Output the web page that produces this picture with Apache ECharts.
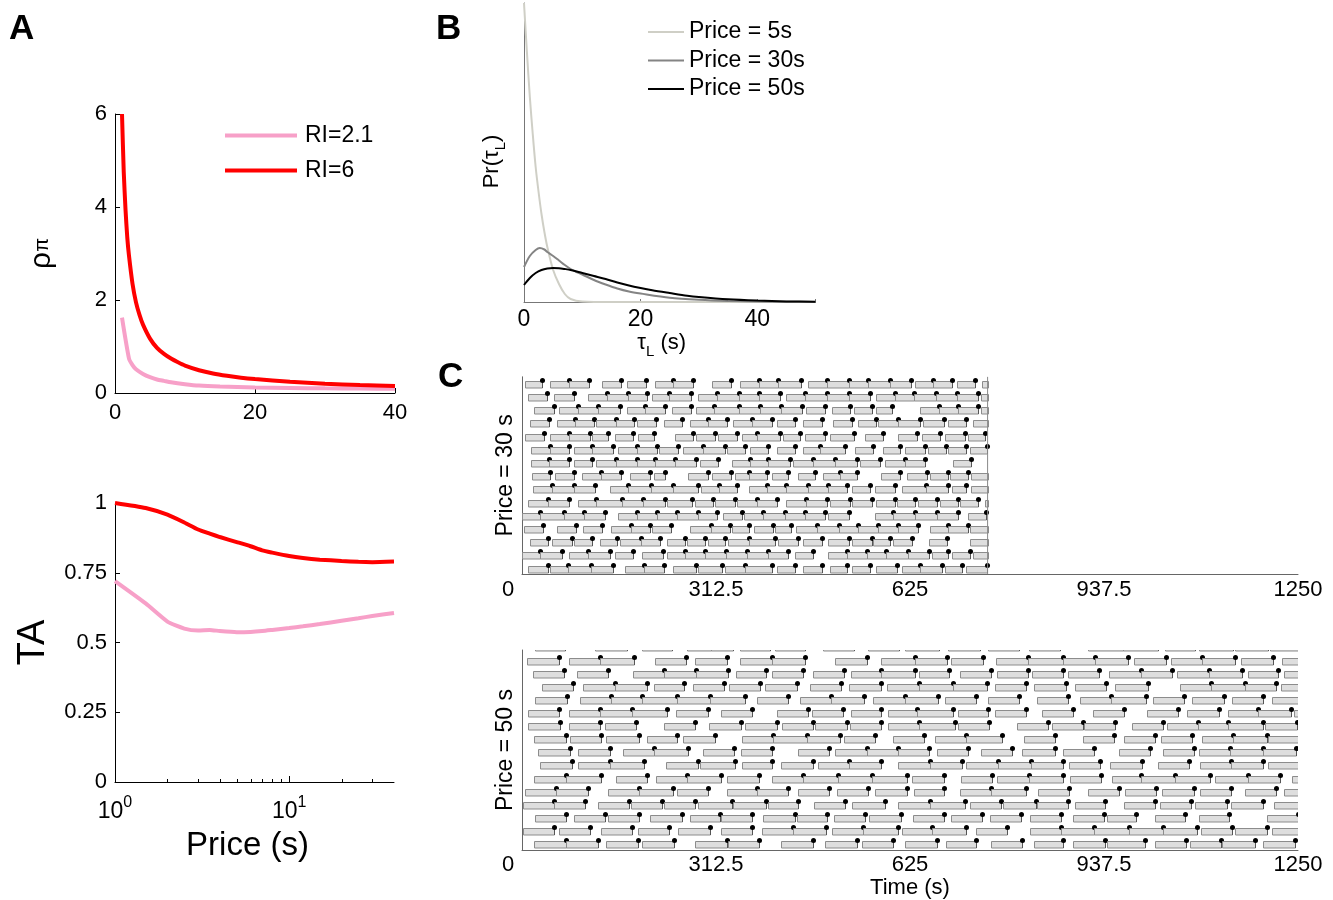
<!DOCTYPE html>
<html><head><meta charset="utf-8">
<script src="https://cdn.jsdelivr.net/npm/echarts@6/dist/echarts.min.js"></script>
<style>html,body{margin:0;padding:0;background:#fff}#c{width:1333px;height:900px}</style>
</head><body><div id="c"></div><script>
// ---------- Panel A (top): rho^pi vs price ----------
const aPriceHi = [1,1.25,1.5,1.75,2,2.5,3,3.5,4,5,6,7,8,9,10,12,14,16,18,20,25,30,35,40];
const aRhoHi   = [6.0,4.75,3.95,3.35,2.95,2.35,1.95,1.68,1.47,1.17,0.97,0.84,0.74,0.66,0.59,0.49,0.42,0.37,0.33,0.30,0.24,0.20,0.17,0.15];
const aPriceLo = [1,2,2.5,3,4,5,6,7,8,10,12,15,20,25,30,35,40];
const aRhoLo   = [1.62,0.74,0.60,0.51,0.41,0.34,0.29,0.26,0.23,0.19,0.16,0.14,0.12,0.11,0.10,0.095,0.09];
// ---------- Panel A (bottom): TA vs price (log) ----------
const taPrice = [1,1.5,2,2.5,3,3.5,4,5,6,7,8,10,12,15,20,25,30,40];
const taHi    = [1.0,0.982,0.958,0.93,0.905,0.89,0.878,0.86,0.845,0.83,0.822,0.81,0.803,0.797,0.792,0.789,0.788,0.79];
const taLo    = [0.72,0.64,0.575,0.55,0.543,0.545,0.541,0.537,0.538,0.541,0.545,0.552,0.558,0.566,0.578,0.587,0.595,0.606];
const taMinorTicks = [2,3,4,5,6,7,8,9,20,30];
// ---------- Panel B: Pr(tau_L) ----------
const bTau5  = [0,0.5,1,1.5,2,2.5,3,3.5,4,5,6,7,8,10,15,20,30,40,50];
const bPr5   = [299,250,205,168,135,110,88,70,55,32,18,8,3,0.5,0,0,0,0,0];
const bTau30 = [0,1,2,2.7,3.5,4,5,6,7,8,9,10,12,14,16,18,20,25,30,35,40,45,50];
const bPr30  = [35,46,52,54,52.5,50,46,41.5,37,33,30,27.5,22,17.5,13.5,10.5,8.5,4.3,2.2,1,0.4,0.2,0.1];
const bTau50 = [0,1,2,3,4,5,6,7,8,10,12,14,16,18,20,22,25,28,30,35,40,45,50];
const bPr50  = [17,24,29,32,33.5,34,33.8,33,32,29,26,23,19.5,16.5,14,11.8,9,6.3,5,2.7,1.4,0.6,0.3];
// ---------- Panel C: work bouts (chains: [start, reward1, reward2, ...]) ----------
const cTicks = [0,312.5,625,937.5,1250];
const price30EndTime = 750;
const price30Rows = [
 [[5,33],[45,76,108],[129,160],[169,200],[214,243,276],[306,336],[351,382,413,449],[461,492,527,558,593,626],[633,662,692],[700,729],[741,770]],
 [[10,41],[52,83],[107,137,170,202],[209,237,273],[284,314,350,381,416],[426,456,491,526,561],[571,601,632,667,700,734],[739,770]],
 [[20,51],[60,91,123,158],[169,198,231],[241,273],[281,310,349,383,418,451],[457,488],[499,528],[534,563],[571,596],[641,671,703,735],[740,770]],
 [[13,44],[56,85,116],[120,151,181],[185,216],[228,257],[271,299,330],[340,370,402],[410,440],[453,483],[501,531],[542,571],[574,606,641],[646,679],[687,716],[727,770]],
 [[5,35],[45,76,110],[113,138],[150,178],[187,213],[247,276],[281,311],[316,347],[354,378,416],[421,448],[456,488],[496,534],[553,582],[606,636],[644,673],[681,714],[719,746]],
 [[14,45,76],[83,113,146],[155,185,217],[220,252],[260,292,327],[330,360],[367,397],[410,440],[453,480,520],[536,566],[582,609],[617,649],[654,683],[687,716],[722,749]],
 [[14,44,75],[83,112],[120,151,185,214,247,280],[287,315],[338,367,397,432],[437,469,504,539],[545,577],[585,617,649],[695,724]],
 [[16,45],[53,84],[96,128,160],[174,206],[212,230],[268,299],[306,337],[343,365,394],[402,429],[445,472],[485,512,539],[579,609],[620,652],[657,687],[690,719],[724,770]],
 [[18,48,84,118],[142,171,208,244,283],[289,317,347],[365,394,426,461,493,523],[531,561],[569,601],[612,651,687],[692,716],[724,770]],
 [[10,42,75],[91,120,161,195,230],[233,274],[279,308],[311,343],[346,378,410],[426,458,491],[496,528],[531,563],[571,601],[604,633],[638,668],[673,703],[706,735],[746,770]],
 [[0,29,67,100,133],[155,185,217,249,283,314],[324,354],[357,389,424,456,488],[493,526],[569,598,633,668,703],[719,748]],
 [[4,34],[56,87],[99,129],[144,176,206],[210,240],[271,305,335],[338,365],[373,405],[408,434],[442,475,510,542,574,606,638],[657,687,719],[722,770]],
 [[13,42],[48,80],[83,112],[126,153],[158,192,222],[233,263],[265,295],[300,327],[332,365,408],[413,445],[453,483],[493,526],[531,563],[566,593],[598,628],[655,684],[722,770]],
 [[0,29,64],[75,107,142],[150,179],[193,227],[233,263,294,328,362,397,429],[440,469],[493,523,555,587,622,655],[660,687],[692,722],[727,770]],
 [[10,42],[45,74,111,146],[166,197,228],[244,281],[284,322],[327,359,402],[410,440],[453,483],[496,523],[531,561],[571,604],[612,641,676],[681,708],[716,749]]
];
const price50EndTime = 1250;
const price50Rows = [
 [[21,69],[118,169],[193,241],[265,305,340],[351,400],[407,456],[485,534],[558,607],[617,671],[687,738],[750,800],[816,867],[911,968,1025],[1036,1084],[1090,1146],[1149,1202],[1205,1280]],
 [[8,59],[75,126,180],[214,264],[279,330],[351,402,456],[504,555],[579,633,684],[691,742],[764,815,871,923,976],[986,1037],[1046,1096,1148],[1158,1209],[1224,1280]],
 [[18,68],[88,138],[178,229,280,332],[344,393],[403,453],[468,519],[530,579,633],[639,688],[706,756],[765,815],[821,871],[880,930],[946,997,1047],[1055,1106,1159],[1169,1218],[1227,1280]],
 [[32,82],[99,150,202],[212,261],[276,326],[334,383],[392,443],[464,514],[526,578],[588,639,695,749],[762,812],[825,876],[890,940],[955,1008],[1060,1110,1164,1214],[1223,1280]],
 [[21,72],[93,143,194,250,303,359],[378,429],[448,498,551],[566,617,670],[681,732],[750,801],[829,880],[899,949,1005],[1017,1067],[1079,1130],[1143,1193],[1208,1280]],
 [[9,59],[75,125,177,233],[248,299],[321,370],[410,460],[467,517],[530,579],[589,637,695],[702,751],[762,812],[837,887],[920,970],[1006,1056],[1071,1122],[1137,1186,1239],[1244,1280]],
 [[10,61],[75,126],[134,184],[229,278],[302,353],[360,410],[419,469],[472,523],[528,578],[590,640,697],[703,752],[797,847],[853,904],[906,955],[982,1032],[1039,1089,1137,1193],[1197,1248]],
 [[19,71],[77,127],[136,189],[201,250],[260,311],[354,405,459,512],[518,569],[598,648],[666,716,773],[809,859],[903,953],[969,1019],[1029,1080],[1095,1146,1200],[1202,1280]],
 [[26,78],[91,142],[162,213,268],[292,342],[353,403],[444,495],[504,555,606,656],[668,718],[739,790],[806,858],[871,922],[961,1012],[1032,1082],[1090,1141,1193,1246]],
 [[29,80],[91,141,196],[232,283],[287,343],[354,403],[418,468],[476,526,578],[606,657,709],[716,766,820,871],[881,931],[947,998],[1025,1075],[1092,1142,1194],[1202,1280]],
 [[19,71,127],[151,202],[216,266,321],[331,381],[403,453,509,563,620],[629,679],[707,757],[765,816,871],[883,933],[950,997,1052,1108],[1116,1169,1221],[1240,1280]],
 [[5,55,107],[139,189,244],[249,300],[330,378,428],[444,495],[508,558],[569,620],[632,679],[706,756,812],[831,881],[912,962],[971,1021],[1031,1082],[1092,1142],[1165,1214],[1227,1280]],
 [[1,51,102],[123,173],[175,225],[229,279],[284,338],[340,393],[396,445],[471,521],[532,584],[606,657,714],[722,772],[775,828],[829,880],[890,939],[969,1019],[1028,1078],[1084,1135],[1142,1193],[1212,1280]],
 [[21,71],[83,134],[139,189],[206,257],[270,319],[321,370],[389,440],[443,492],[502,553],[559,611],[630,680],[691,741],[754,804],[818,868],[887,938],[942,989],[1019,1068],[1090,1139],[1200,1250]],
 [[1,51],[59,109],[127,177],[187,237],[252,303],[321,370],[386,436,489],[499,550,606],[612,661,716],[732,782],[818,868,922,977,1032,1087],[1094,1144],[1149,1200],[1208,1280]],
 [[19,71,123],[136,187],[194,245],[279,330],[332,382],[418,468],[488,539],[547,598],[617,668],[683,732],[756,806],[824,871],[888,939],[942,1004],[1020,1069],[1076,1126],[1127,1180],[1194,1245]]
];

const FONT = 'Liberation Sans, Arial, Helvetica, sans-serif';
const zip = (a, b) => a.map((v, i) => [v, b[i]]);
function boutData(rows) {
  const out = [];
  rows.forEach((chains, r) => {
    const rowVal = rows.length - r;
    chains.forEach(ch => { for (let i = 1; i < ch.length; i++) out.push([ch[i - 1], ch[i], rowVal]); });
  });
  return out;
}
function boutRender(limit) {
  return function (params, api) {
    const s = api.value(0), e = api.value(1), row = api.value(2);
    const p0 = api.coord([s, row]);
    const p1 = api.coord([Math.min(e, limit), row]);
    const y = Math.round(p0[1]);
    const x0 = Math.round(p0[0]) + 0.5;
    const x1 = Math.round(p1[0]) + 0.5;
    const kids = [{ type: 'rect', shape: { x: x0, y: y - 3.5, width: Math.max(1, x1 - x0), height: 6.5 },
      style: { fill: '#dedede', stroke: '#8c8c8c', lineWidth: 1 } }];
    if (e <= limit) {
      kids.push({ type: 'line', shape: { x1: x1, y1: y - 4.5, x2: x1, y2: y + 3 }, style: { stroke: '#555', lineWidth: 1 } });
      kids.push({ type: 'circle', shape: { cx: x1, cy: y - 4.5, r: 2.5 }, style: { fill: '#000' } });
    }
    return { type: 'group', children: kids };
  };
}
const blackLine = { show: true, lineStyle: { color: '#000', width: 1 } };
const grayLine = { show: true, lineStyle: { color: '#666', width: 1 } };
const lbl = (size, extra) => Object.assign({ fontSize: size, color: '#000', fontFamily: FONT }, extra || {});
const cLabel = (margin) => ({
  fontSize: 22, color: '#000', fontFamily: FONT, margin: margin,
  formatter: v => v === 0 ? '{z|0}' : String(v),
  rich: { z: { fontSize: 22, fontFamily: FONT, color: '#000', padding: [0, 28, 0, 0] } }
});
const PINK = '#f7a0c8', RED = '#ff0000';

const option = {
  animation: false,
  backgroundColor: '#fff',
  textStyle: { fontFamily: FONT },
  grid: [
    { left: 115, top: 114, width: 280, height: 279 },
    { left: 115, top: 503, width: 279, height: 279 },
    { left: 524, top: 3, width: 291.5, height: 299 },
    { left: 522, top: 376.8, width: 776, height: 197.2 },
    { left: 522, top: 650, width: 776, height: 203.3 }
  ],
  xAxis: [
    { type: 'value', gridIndex: 0, min: 0, max: 40, interval: 20, axisLine: blackLine,
      axisTick: { inside: true, length: 5, lineStyle: { color: '#000' } }, splitLine: { show: false },
      axisLabel: lbl(22, { margin: 9 }) },
    { type: 'log', logBase: 10, gridIndex: 1, min: 1, max: 40, axisLine: blackLine,
      axisTick: { inside: true, length: 6, lineStyle: { color: '#000' } }, splitLine: { show: false }, minorTick: { show: false },
      axisLabel: { margin: 13, showMaxLabel: false,
        formatter: v => { const l = Math.log10(v), e = Math.round(l); return Math.abs(l - e) > 1e-6 ? '' : '{b|10}{s|' + e + '}'; },
        rich: { b: { fontSize: 23, fontFamily: FONT, color: '#000', lineHeight: 28, verticalAlign: 'bottom' },
                s: { fontSize: 16, fontFamily: FONT, color: '#000', lineHeight: 16, verticalAlign: 'top' } } },
      name: 'Price (s)', nameLocation: 'middle', nameGap: 47, nameTextStyle: lbl(33, { padding: [0, 14, 0, 0] }) },
    { type: 'value', gridIndex: 2, min: 0, max: 50, interval: 20,
      axisLine: { show: true, lineStyle: { color: '#777', width: 1 } },
      axisTick: { inside: true, length: 3, lineStyle: { color: '#777' } }, splitLine: { show: false },
      axisLabel: lbl(23, { margin: 6, formatter: v => (v % 20 === 0 ? String(v) : '') }),
      name: '{a|τ}{l|L}{a| (s)}', nameLocation: 'middle', nameGap: 22,
      nameTextStyle: { padding: [0, 16, 0, 0], rich: {
        a: { fontSize: 22, fontFamily: FONT, color: '#000', lineHeight: 27, verticalAlign: 'top' },
        l: { fontSize: 15, fontFamily: FONT, color: '#000', lineHeight: 16, verticalAlign: 'bottom' } } } },
    { type: 'value', gridIndex: 3, min: 0, max: 1250, interval: 312.5, axisLine: grayLine,
      axisTick: { show: false }, splitLine: { show: false }, axisLabel: cLabel(5) },
    { type: 'value', gridIndex: 4, min: 0, max: 1250, interval: 312.5, axisLine: grayLine,
      axisTick: { show: false }, splitLine: { show: false }, axisLabel: cLabel(4),
      name: 'Time (s)', nameLocation: 'middle', nameGap: 23, nameTextStyle: lbl(22) }
  ],
  yAxis: [
    { type: 'value', gridIndex: 0, min: 0, max: 6, interval: 2, axisLine: blackLine,
      axisTick: { inside: true, length: 5, lineStyle: { color: '#000' } }, splitLine: { show: false },
      axisLabel: lbl(22, { margin: 8 }),
      name: '{r|ρ}{p|π}', nameLocation: 'middle', nameRotate: 90, nameGap: 58,
      nameTextStyle: { rich: {
        r: { fontSize: 30, fontFamily: FONT, color: '#000', lineHeight: 30, verticalAlign: 'bottom' },
        p: { fontSize: 20, fontFamily: FONT, color: '#000', lineHeight: 20, padding: [0, 0, 5, 0], verticalAlign: 'bottom' } } } },
    { type: 'value', gridIndex: 1, min: 0, max: 1, interval: 0.25, axisLine: blackLine,
      axisTick: { inside: true, length: 5, lineStyle: { color: '#000' } }, splitLine: { show: false },
      axisLabel: lbl(22, { margin: 8 }),
      name: 'TA', nameLocation: 'middle', nameRotate: 90, nameGap: 62, nameTextStyle: lbl(38) },
    { type: 'value', gridIndex: 2, min: 0, max: 299,
      axisLine: { show: true, lineStyle: { color: '#777', width: 1 } },
      axisTick: { show: false }, axisLabel: { show: false }, splitLine: { show: false },
      name: '{a|Pr(τ}{l|L}{a|)}', nameLocation: 'middle', nameRotate: 90, nameGap: 16,
      nameTextStyle: { padding: [0, 18, 0, 0], rich: {
        a: { fontSize: 22, fontFamily: FONT, color: '#000', lineHeight: 27, verticalAlign: 'top' },
        l: { fontSize: 15, fontFamily: FONT, color: '#000', lineHeight: 16, verticalAlign: 'bottom' } } } },
    { type: 'value', gridIndex: 3, min: 0.674, max: 15.6, axisLine: grayLine,
      axisTick: { show: false }, axisLabel: { show: false }, splitLine: { show: false },
      name: 'Price = 30 s', nameLocation: 'middle', nameRotate: 90, nameGap: 5, nameTextStyle: lbl(23) },
    { type: 'value', gridIndex: 4, min: 0.625, max: 15.88, axisLine: grayLine,
      axisTick: { show: false }, axisLabel: { show: false }, splitLine: { show: false },
      name: 'Price = 50 s', nameLocation: 'middle', nameRotate: 90, nameGap: 5, nameTextStyle: lbl(23) }
  ],
  legend: [
    { data: ['RI=2.1', 'RI=6'], orient: 'vertical', left: 225, top: 122.5, padding: 0, icon: 'rect',
      itemWidth: 72, itemHeight: 4, itemGap: 9, selectedMode: false,
      textStyle: lbl(23, { lineHeight: 26, padding: [0, 0, 0, 3] }) },
    { data: ['Price = 5s', 'Price = 30s', 'Price = 50s'], orient: 'vertical', left: 648, top: 20, padding: 0, icon: 'rect',
      itemWidth: 36, itemHeight: 2, itemGap: 4.5, selectedMode: false,
      textStyle: lbl(23, { lineHeight: 24 }) }
  ],
  graphic: [
    { type: 'text', left: 9, top: 12, style: { text: 'A', font: 'bold 35px ' + FONT, fill: '#000' } },
    { type: 'text', left: 436, top: 12, style: { text: 'B', font: 'bold 35px ' + FONT, fill: '#000' } },
    { type: 'text', left: 438, top: 360, style: { text: 'C', font: 'bold 35px ' + FONT, fill: '#000' } }
  ],
  series: [
    { name: 'RI=2.1', type: 'line', xAxisIndex: 0, yAxisIndex: 0, data: zip(aPriceLo, aRhoLo), showSymbol: false, smooth: 0.2,
      lineStyle: { color: PINK, width: 4 }, itemStyle: { color: PINK } },
    { name: 'RI=6', type: 'line', xAxisIndex: 0, yAxisIndex: 0, data: zip(aPriceHi, aRhoHi), showSymbol: false, smooth: 0.2,
      lineStyle: { color: RED, width: 4 }, itemStyle: { color: RED } },
    { name: 'RI=2.1', type: 'line', xAxisIndex: 1, yAxisIndex: 1, data: zip(taPrice, taLo), showSymbol: false, smooth: 0.2,
      lineStyle: { color: PINK, width: 4 }, itemStyle: { color: PINK } },
    { name: 'RI=6', type: 'line', xAxisIndex: 1, yAxisIndex: 1, data: zip(taPrice, taHi), showSymbol: false, smooth: 0.2,
      lineStyle: { color: RED, width: 4 }, itemStyle: { color: RED } },
    { name: 'minorTicks', type: 'custom', xAxisIndex: 1, yAxisIndex: 1, data: taMinorTicks.map(v => [v, 0]), silent: true,
      renderItem: (p, api) => { const c = api.coord([api.value(0), 0]); const x = Math.round(c[0]) + 0.5;
        return { type: 'line', shape: { x1: x, y1: c[1], x2: x, y2: c[1] - 3 }, style: { stroke: '#000', lineWidth: 1 } }; } },
    { name: 'Price = 5s', type: 'line', xAxisIndex: 2, yAxisIndex: 2, data: zip(bTau5, bPr5), showSymbol: false, smooth: 0.3,
      lineStyle: { color: '#cfcfc6', width: 2 }, itemStyle: { color: '#cfcfc6' } },
    { name: 'Price = 30s', type: 'line', xAxisIndex: 2, yAxisIndex: 2, data: zip(bTau30, bPr30), showSymbol: false, smooth: 0.3,
      lineStyle: { color: '#848484', width: 2 }, itemStyle: { color: '#848484' } },
    { name: 'Price = 50s', type: 'line', xAxisIndex: 2, yAxisIndex: 2, data: zip(bTau50, bPr50), showSymbol: false, smooth: 0.3,
      lineStyle: { color: '#000', width: 2 }, itemStyle: { color: '#000' } },
    { name: 'bouts30', type: 'custom', xAxisIndex: 3, yAxisIndex: 3, data: boutData(price30Rows), clip: true, silent: true,
      renderItem: boutRender(price30EndTime) },
    { name: 'end30', type: 'line', xAxisIndex: 3, yAxisIndex: 3, data: [[price30EndTime, 0.674], [price30EndTime, 15.6]],
      showSymbol: false, silent: true, lineStyle: { color: '#888', width: 1 } },
    { name: 'bouts50', type: 'custom', xAxisIndex: 4, yAxisIndex: 4, data: boutData(price50Rows), clip: true, silent: true,
      renderItem: boutRender(price50EndTime) }
  ]
};
echarts.init(document.getElementById('c'), null, { renderer: 'canvas' }).setOption(option);
</script></body></html>
